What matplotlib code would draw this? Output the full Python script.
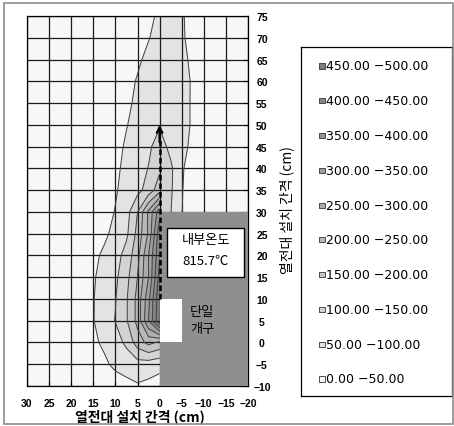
import numpy as np
import matplotlib.pyplot as plt
from matplotlib.patches import Rectangle

# 열전대 위치 (cm) : 벽면(0) 왼쪽 영역
x_left = [0, 2.5, 5, 7.5, 10, 12.5, 15, 17.5, 20]
y_rows = [-10, -5, 0, 5, 10, 15, 20, 25, 30, 35, 40, 45, 50, 55, 60, 65, 70, 75]
temp_left = np.array([
    [30, 38, 45, 35, 28, 22, 20, 20, 20],
    [65, 75, 80, 72, 60, 42, 30, 24, 20],
    [190, 215, 175, 110, 80, 58, 42, 28, 22],
    [498, 350, 215, 145, 102, 75, 48, 30, 22],
    [495, 335, 215, 145, 98, 72, 48, 30, 22],
    [470, 300, 200, 135, 90, 68, 45, 30, 22],
    [445, 300, 182, 120, 78, 58, 40, 28, 22],
    [435, 258, 165, 90, 62, 42, 30, 25, 22],
    [380, 260, 150, 80, 52, 35, 28, 24, 22],
    [180, 120, 85, 65, 46, 32, 26, 22, 20],
    [140, 102, 78, 60, 42, 30, 24, 21, 20],
    [125, 90, 72, 56, 36, 28, 22, 20, 20],
    [95, 76, 65, 48, 32, 26, 22, 20, 20],
    [82, 70, 60, 40, 28, 24, 22, 20, 20],
    [78, 68, 55, 30, 24, 22, 20, 20, 20],
    [75, 65, 40, 26, 22, 20, 20, 20, 20],
    [72, 47, 25, 22, 20, 20, 20, 20, 20],
    [70, 25, 22, 20, 20, 20, 20, 20, 20],
])

# 벽 위쪽 (30cm 이상) 오른쪽 영역
x_right = [-10, -7.5, -5, -2.5, 0]
y_right = [30, 35, 40, 45, 50, 55, 60, 65, 70, 75]
temp_right = np.array([
    [22, 30, 51, 102, 110],
    [22, 32, 52, 108, 115],
    [22, 30, 55, 110, 140],
    [24, 42, 60, 85, 125],
    [25, 46, 62, 78, 95],
    [25, 46, 62, 75, 82],
    [25, 46, 63, 72, 78],
    [24, 42, 60, 70, 75],
    [22, 38, 55, 68, 72],
    [22, 40, 53, 65, 70],
])

levels = [0, 50, 100, 150, 200, 250, 300, 350, 400, 450, 500]
fills = ['#f7f7f7', '#e3e3e3', '#d3d3d3', '#c5c5c5', '#b8b8b8',
         '#acacac', '#a0a0a0', '#949494', '#888888', '#7c7c7c']
legend_labels = ['0.00 \u221250.00', '50.00 \u2212100.00', '100.00 \u2212150.00',
                 '150.00 \u2212200.00', '200.00 \u2212250.00', '250.00 \u2212300.00',
                 '300.00 \u2212350.00', '350.00 \u2212400.00', '400.00 \u2212450.00',
                 '450.00 \u2212500.00']

x_ticks = [30, 25, 20, 15, 10, 5, 0, -5, -10, -15, -20]
y_ticks = [-10, -5, 0, 5, 10, 15, 20, 25, 30, 35, 40, 45, 50, 55, 60, 65, 70, 75]

# 벽체, 개구부, 측정 표시
wall = (-20, -10, 20, 40)        # x, y, 폭, 높이
opening = (-5, 0, 5, 10)
temp_box = (-19.1, 15, 17.4, 11.3)
arrow_x, arrow_y0, arrow_y1 = 0, 10, 50

kr = ['Noto Sans CJK KR', 'DejaVu Sans']

fig = plt.figure(figsize=(4.54, 4.27), dpi=100)
ax = fig.add_axes([27/454, 1-387/427, 221/454, 370/427])
ax.set_facecolor(fills[0])

ax.contourf(x_left, y_rows, temp_left, levels=levels, colors=fills, zorder=1)
ax.contour(x_left, y_rows, temp_left, levels=levels[1:-1], colors='#404040', linewidths=0.7, zorder=2)
ax.contourf(x_right, y_right, temp_right, levels=levels, colors=fills, zorder=1)
ax.contour(x_right, y_right, temp_right, levels=levels[1:-1], colors='#404040', linewidths=0.7, zorder=2)

ax.add_patch(Rectangle(wall[:2], wall[2], wall[3], facecolor='#8f8f8f', edgecolor='none', zorder=3))
ax.add_patch(Rectangle(opening[:2], opening[2], opening[3], facecolor='white', edgecolor='none', zorder=3.1))
ax.add_patch(Rectangle(temp_box[:2], temp_box[2], temp_box[3], facecolor='white', edgecolor='black', lw=1.0, zorder=3.2))

cx = temp_box[0] + temp_box[2] / 2
ax.text(cx, 23.7, '내부온도', ha='center', va='center', fontsize=9.5, family=kr, zorder=4)
ax.text(cx, 18.9, '815.7℃', ha='center', va='center', fontsize=9.5, family=kr, zorder=4)
ax.text(-9.6, 7.0, '단일', ha='center', va='center', fontsize=9.5, family=kr, zorder=4)
ax.text(-9.6, 3.1, '개구', ha='center', va='center', fontsize=9.5, family=kr, zorder=4)

# 점선 화살표
ax.plot([arrow_x, arrow_x], [arrow_y0, arrow_y1 - 3], color='black', lw=1.8,
        ls=(0, (2.2, 1.2)), zorder=5)
ax.annotate('', xy=(arrow_x, arrow_y1), xytext=(arrow_x, arrow_y1 - 4),
            arrowprops=dict(arrowstyle='->', color='black', lw=1.6,
                            shrinkA=0, shrinkB=0, mutation_scale=10), zorder=5)

ax.set_xlim(30, -20)
ax.set_ylim(-10, 75)
ax.set_xticks(x_ticks)
ax.set_yticks(y_ticks)
ax.grid(True, color='#1a1a1a', lw=0.9)
ax.set_axisbelow('line')
ax.yaxis.tick_right()
ax.tick_params(axis='both', direction='in', length=3, labelsize=7.5, width=0.8)
ax.tick_params(axis='x', pad=9)
ax.tick_params(axis='y', pad=10)
for lab in ax.get_xticklabels() + ax.get_yticklabels():
    lab.set_fontfamily('Liberation Sans')
    lab.set_fontweight('bold')
for lab in ax.get_yticklabels():
    lab.set_horizontalalignment('center')
for s in ax.spines.values():
    s.set_linewidth(0.9)

ax.set_xlabel('열전대 설치 간격 (cm)', family=kr, fontsize=10, fontweight='bold')
ax.xaxis.label.set_verticalalignment('center')
ax.xaxis.set_label_coords(0.511, -0.081)
ax.yaxis.set_label_position('right')
ax.set_ylabel('열전대 설치 간격 (cm)', family=kr, fontsize=10, rotation=90)
ax.yaxis.label.set_verticalalignment('center')
ax.yaxis.set_label_coords(1.176, 0.478)

# 범례
lax = fig.add_axes([301/454, 1-397/427, 151/454, 349/427])
lax.set_xlim(0, 1)
lax.set_ylim(-0.489, 9.546)
lax.set_xticks([])
lax.set_yticks([])
for s in lax.spines.values():
    s.set_linewidth(0.9)
rows = np.arange(len(legend_labels))
lax.scatter(np.full(len(rows), 0.139), rows, marker='s', s=14, c=fills,
            edgecolors='#333333', linewidths=0.6)
for r, lab in zip(rows, legend_labels):
    lax.text(0.168, r, lab, va='center', ha='left', fontsize=9, family='DejaVu Sans')

fig.add_artist(Rectangle((4/454, 2/427), 449/454, 421/427, transform=fig.transFigure,
                         fill=False, edgecolor='#8c8c8c', lw=1.2))

fig.savefig('out.png', dpi=100)
